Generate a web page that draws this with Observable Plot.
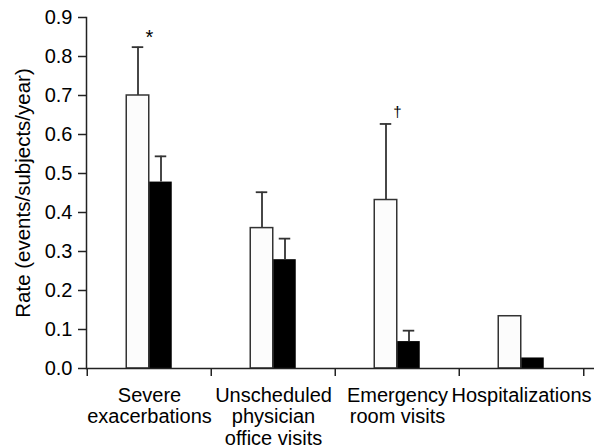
<!DOCTYPE html>
<html>
<head>
<meta charset="utf-8">
<script src="https://cdn.jsdelivr.net/npm/d3@7"></script>
<script src="https://cdn.jsdelivr.net/npm/@observablehq/plot@0.6"></script>
<style>
  html, body { margin: 0; padding: 0; background: #fff; }
</style>
</head>
<body>
<div id="chart"></div>
<script>
// ---- data ----
const categories = [
  "Severe\nexacerbations",
  "Unscheduled\nphysician\noffice visits",
  "Emergency\nroom visits",
  "Hospitalizations"
];
const seriesNames = ["Open", "Filled"];
const rateOpen    = [0.700, 0.360, 0.432, 0.134];
const upperOpen   = [0.824, 0.452, 0.627, null];
const rateFilled  = [0.478, 0.279, 0.069, 0.027];
const upperFilled = [0.544, 0.333, 0.097, null];
const significance = ["*", "", "\u2020", ""];
const yTicks = [0, 0.1, 0.2, 0.3, 0.4, 0.5, 0.6, 0.7, 0.8, 0.9];
const yLabel = "Rate (events/subjects/year)";

// ---- build tables ----
const openRows = categories.map((c, i) => ({category: c, series: seriesNames[0], value: rateOpen[i], upper: upperOpen[i]}));
const filledRows = categories.map((c, i) => ({category: c, series: seriesNames[1], value: rateFilled[i], upper: upperFilled[i]}));
const noteRows = categories.map((c, i) => ({category: c, label: significance[i],
  y: Math.max(upperOpen[i] ?? rateOpen[i], upperFilled[i] ?? rateFilled[i])})).filter(d => d.label);

// ---- layout ----
const W = 596, H = 448;
const mL = 86, mR = 2, mT = 17, mB = 80;
const xRange = [86, 584];
const bw = (xRange[1] - xRange[0]) / categories.length;
const barW = 23, capW = 12;
const yDomain = [0, 0.9];
const pxPerUnit = (H - mT - mB) / (yDomain[1] - yDomain[0]);
const tickLen = 8 / pxPerUnit;
const ink = "#222";

const chart = Plot.plot({
  width: W, height: H,
  marginLeft: mL, marginRight: mR, marginTop: mT, marginBottom: mB,
  style: {fontFamily: "'Liberation Sans', Arial, sans-serif", fontSize: "20px", color: "#000", background: "#fff"},
  x: {type: "band", domain: categories, range: xRange, padding: 0},
  y: {domain: yDomain},
  marks: [
    // y axis
    Plot.axisY({ticks: yTicks, tickSize: 8, tickPadding: 6, tickFormat: d3.format(".1f"), fontSize: 20, label: null, stroke: ink, strokeWidth: 1.5, fill: "#000"}),
    Plot.frame({anchor: "left", stroke: ink, strokeWidth: 1.5}),
    Plot.text([yLabel], {frameAnchor: "left", textAnchor: "middle", lineAnchor: "middle", rotate: -90, dx: -63, fontSize: 20.5, fill: "#000"}),
    // x axis
    Plot.axisX({tickSize: 0, tickPadding: 18, fontSize: 20, lineHeight: 1.08, label: null, fill: "#000"}),
    // bars
    Plot.barY(openRows, {x: "category", y: "value", fill: "#fcfcfc", stroke: "#333", strokeWidth: 1.5,
      insetLeft: bw / 2 - barW, insetRight: bw / 2}),
    Plot.barY(filledRows, {x: "category", y: "value", fill: "#000",
      insetLeft: bw / 2, insetRight: bw / 2 - barW}),
    // error bars
    Plot.ruleX(openRows.filter(d => d.upper != null), {x: "category", y1: "value", y2: "upper", dx: -barW / 2, stroke: "#333", strokeWidth: 1.8}),
    Plot.tickY(openRows.filter(d => d.upper != null), {x: "category", y: "upper", stroke: "#333", strokeWidth: 1.8,
      insetLeft: bw / 2 - barW / 2 - capW / 2, insetRight: bw / 2 + barW / 2 - capW / 2}),
    Plot.ruleX(filledRows.filter(d => d.upper != null), {x: "category", y1: "value", y2: "upper", dx: barW / 2, stroke: "#333", strokeWidth: 1.8}),
    Plot.tickY(filledRows.filter(d => d.upper != null), {x: "category", y: "upper", stroke: "#333", strokeWidth: 1.8,
      insetLeft: bw / 2 + barW / 2 - capW / 2, insetRight: bw / 2 - barW / 2 - capW / 2}),
    // baseline and boundary ticks
    Plot.ruleY([0], {stroke: ink, strokeWidth: 1.5}),
    Plot.ruleX(categories, {x: d => d, y1: 0, y2: -tickLen, dx: -bw / 2, stroke: ink, strokeWidth: 1.5}),
    Plot.ruleX([categories[categories.length - 1]], {x: d => d, y1: 0, y2: -tickLen, dx: bw / 2, stroke: ink, strokeWidth: 1.5}),
    // significance marks
    Plot.text(noteRows.filter(d => d.label === "*"), {x: "category", y: "y", text: "label", lineAnchor: "bottom", dy: -3, fontSize: 20, fill: "#000"}),
    Plot.text(noteRows.filter(d => d.label !== "*"), {x: "category", y: "y", text: "label", lineAnchor: "bottom", dy: -7, fontSize: 15, fill: "#000"})
  ]
});
document.getElementById("chart").appendChild(chart);
</script>
</body>
</html>
